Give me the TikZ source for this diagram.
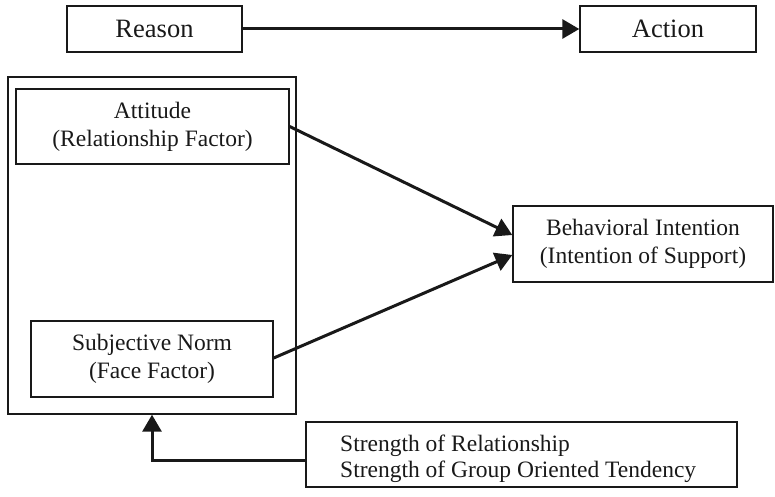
\documentclass[tikz,border=0pt]{standalone}
\usepackage{fontspec}
\setmainfont{Liberation Serif}
\usetikzlibrary{arrows.meta,calc}
\begin{document}
\begin{tikzpicture}[x=1pt,y=1pt,
  txt/.style={align=center,font=\fontsize{23.5}{28}\selectfont,text=black!90,inner sep=0pt},
  box/.style={txt,draw=black!90,line width=1.4pt,minimum width=#1},
  conn/.style={line width=3pt,draw=black!90,-{Triangle[length=17pt,width=19pt]}}]
\useasboundingbox (0,0) rectangle (775,-497);
\node[box=175pt,minimum height=46pt,font=\fontsize{26.5}{30}\selectfont] (reason) at (154.5,-29) {Reason};
\node[box=176pt,minimum height=46pt,font=\fontsize{26.5}{30}\selectfont] (action) at (668,-29) {Action};
\node[box=288pt,minimum height=337pt] (outer) at (152,-245.5) {};
\node[box=273pt,minimum height=75pt] (att) at (152.5,-126.5) {Attitude\\(Relationship Factor)};
\node[box=242pt,minimum height=76pt] (sn) at (152,-359) {Subjective Norm\\(Face Factor)};
\node[box=260pt,minimum height=76pt] (bi) at (643,-244) {Behavioral Intention\\(Intention of Support)};
\node[box=431pt,minimum height=65pt] (str) at (521.5,-454.5) {};
\node[txt,align=left,anchor=west,font=\fontsize{23.5}{25.5}\selectfont] (strtxt) at (340,-459) {Strength of Relationship\\Strength of Group Oriented Tendency};
\draw[conn] (reason.east) -- (action.west);
\draw[conn] (att.east) -- ($(bi.west)+(0,9)$);
\draw[conn] ($(sn.east)+(0,1)$) -- ($(bi.west)+(0,-11)$);
\coordinate (up) at (152,-460);
\draw[conn] (str.west |- up) -- (up) -- (up |- outer.south);
\end{tikzpicture}
\end{document}
